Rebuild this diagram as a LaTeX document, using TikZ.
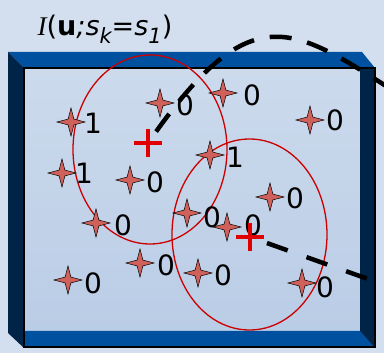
\documentclass[tikz,border=0pt]{standalone}
\usepackage{fontspec}
\setmainfont{DejaVu Sans}
\newfontfamily\serifit{Liberation Serif}
\usetikzlibrary{shapes.geometric}
\definecolor{bgblue}{HTML}{D3DFEE}
\definecolor{facetop}{HTML}{CCDAEC}
\definecolor{facebot}{HTML}{BACDE6}
\definecolor{bandblue}{HTML}{0050A0}
\definecolor{navy}{HTML}{002448}
\definecolor{starred}{HTML}{D0605A}
\definecolor{ringred}{HTML}{CC0000}
\definecolor{plusred}{HTML}{E00000}
\newcommand{\lowidx}[1]{\raisebox{-0.28em}{\fontsize{21}{21}\selectfont\itshape #1}}

\begin{document}
\begin{tikzpicture}[x=1pt,y=-1pt]
\tikzstyle{spark}=[star, star points=4, star point ratio=3.4, minimum size=28pt, inner sep=0pt, draw=black, line width=0.5pt, fill=starred]
\tikzstyle{val}=[inner sep=0pt, font=\fontsize{28}{28}\selectfont]
\tikzstyle{centre}=[inner sep=0pt, minimum size=27pt]
\tikzstyle{plus}=[plusred, line width=4pt]
\tikzstyle{ring}=[ringred, line width=1.3pt]
\useasboundingbox (0,0) rectangle (384,353);
\fill[bgblue] (0,0) rectangle (384,353);

% frame
\fill[bandblue] (8,52) -- (362,52) -- (375,68) -- (24,68) -- cycle;
\fill[navy] (8,52) -- (24,68) -- (24,348) -- (8,333) -- cycle;
\shade[top color=facetop, bottom color=facebot] (24,68) rectangle (360,331);
\fill[navy] (360,68) rectangle (375,348);
\fill[bandblue] (24,331) -- (360,331) -- (375,348) -- (24,348) -- cycle;
\draw[line width=2pt] (24,68) rectangle (375,347.5);

% title
\node[inner sep=0pt, font=\fontsize{27}{27}\selectfont] (title) at (105,29)
  {{\serifit\itshape I}(\textbf{u}\textit{;s}\lowidx{k}=\textit{s}\lowidx{1})};

% windows
\draw[ring] (150,149.5) ellipse (77 and 94.5);
\draw[ring] (249.5,234.5) ellipse (77.5 and 95.5);

% samples
\node[spark] (s1) at (71,122) {};   \node[val] (l1) at (93,123) {1};
\node[spark] (s2) at (160,103) {};  \node[val] (l2) at (185,105) {0};
\node[spark] (s3) at (223,93) {};   \node[val] (l3) at (252,95) {0};
\node[spark] (s4) at (310,120) {};  \node[val] (l4) at (335,120) {0};
\node[spark] (s5) at (210,155) {};  \node[val] (l5) at (235,157) {1};
\node[spark] (s6) at (62,173) {};   \node[val] (l6) at (84,173) {1};
\node[spark] (s7) at (130,180) {};  \node[val] (l7) at (155,182) {0};
\node[spark] (s8) at (270,197) {};  \node[val] (l8) at (295,198) {0};
\node[spark] (s9) at (96,223) {};   \node[val] (l9) at (123,225) {0};
\node[spark] (s10) at (187,213) {}; \node[val] (l10) at (212,217) {0};
\node[spark] (s11) at (227,227) {}; \node[val] (l11) at (253,225) {0};
\node[spark] (s12) at (140,263) {}; \node[val] (l12) at (166,265) {0};
\node[spark] (s13) at (198,273) {}; \node[val] (l13) at (223,275) {0};
\node[spark] (s14) at (68,280) {};  \node[val] (l14) at (93,283) {0};
\node[spark] (s15) at (302,283) {}; \node[val] (l15) at (325,287) {0};

% centres
\node[centre] (c1) at (148,143) {};
\node[centre] (c2) at (250,237) {};
\draw[plus] (c1.north) -- (c1.south) (c1.west) -- (c1.east);
\draw[plus] (c2.north) -- (c2.south) (c2.west) -- (c2.east);

% distances
\coordinate (e1) at (386,86);
\coordinate (e2) at (368,279);
\draw[line width=4.5pt, dash pattern=on 22pt off 16pt, shorten <=14pt] (c1.center) .. controls (250,0) and (292,26) .. (e1);
\draw[line width=4.5pt, dash pattern=on 22pt off 20pt, shorten <=18pt] (c2.center) -- (e2);
\end{tikzpicture}
\end{document}
